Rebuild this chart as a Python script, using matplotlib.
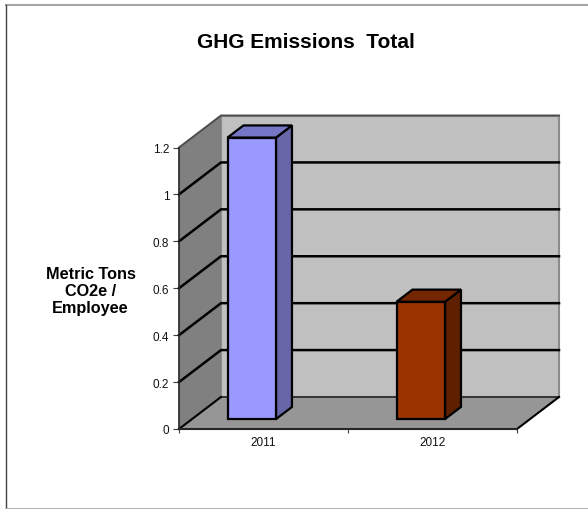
import matplotlib
matplotlib.use('Agg')
import matplotlib.pyplot as plt
from matplotlib.lines import Line2D
from matplotlib.patches import Polygon

W, H = 588, 510

years = ['2011', '2012']
values = [1.2, 0.5]
y_ticks = [0, 0.2, 0.4, 0.6, 0.8, 1, 1.2]
front_colors = ['#9999FF', '#993300']
top_colors = ['#7676C6', '#742600']
side_colors = ['#6666A8', '#5F2000']
title = 'GHG Emissions  Total'
y_label = 'Metric Tons\nCO2e /\nEmployee'

plt.rcParams['font.family'] = ['Liberation Sans', 'DejaVu Sans']

fig = plt.figure(figsize=(W / 100, H / 100), dpi=100)
fig.patch.set_facecolor('white')

# frame: only top, left and bottom show in the picture
fig.add_artist(Line2D([6 / W, 1], [1 - 5.5 / H, 1 - 5.5 / H], color='#a6a6a6', lw=1.5))
fig.add_artist(Line2D([6 / W, 6 / W], [1 - 5.5 / H, 1 - 509.5 / H], color='#404040', lw=1))
fig.add_artist(Line2D([6 / W, 1], [1 - 509.5 / H, 1 - 509.5 / H], color='#a6a6a6', lw=1.2))

# front plane of the 3d box, everything else is offset from it
x0, x1, y_top, y_bot = 179, 517, 148.5, 430
ax = fig.add_axes([x0 / W, 1 - y_bot / H, (x1 - x0) / W, (y_bot - y_top) / H])
ax.set_xlim(0, 2)
ax.set_ylim(0, 1.2)
ax.patch.set_alpha(0)

# depth of the box in data units
dx = 42 / (x1 - x0) * 2
dy = 32 / (y_bot - y_top) * 1.2


def poly(pts, fc, ec='none', lw=0, z=1):
    ax.add_patch(Polygon(pts, closed=True, facecolor=fc, edgecolor=ec, linewidth=lw,
                         clip_on=False, zorder=z, joinstyle='miter'))


def line(xs, ys, color='black', lw=1.8, z=3):
    ax.plot(xs, ys, color=color, lw=lw, clip_on=False, zorder=z, solid_joinstyle='miter')


# back wall, side wall, floor
poly([(dx, dy), (2 + dx, dy), (2 + dx, 1.2 + dy), (dx, 1.2 + dy)], '#C0C0C0', '#8c8c8c', 1.5)
poly([(0, 0), (dx, dy), (dx, 1.2 + dy), (0, 1.2)], '#808080', z=2)
poly([(0, 0), (2, 0), (2 + dx, dy), (dx, dy)], '#969696', z=2)
line([0, dx, 2 + dx], [1.2, 1.2 + dy, 1.2 + dy], color='#4d4d4d', lw=1.4)

# gridlines on both walls
for t in y_ticks[1:-1]:
    line([0, dx, 2 + dx], [t, t + dy, t + dy])
line([dx, 2 + dx], [dy, dy], color='#262626', lw=1.2)
line([2, 2 + dx], [0, dy], lw=1.5)
line([0, dx], [0, dy], lw=1.5)

# bars sit part way into the box depth
bar_left = 0.21
bar_w = 0.287
near = 0.31
far = 0.69
for i, v in enumerate(values):
    l = i + bar_left + near * dx
    r = l + bar_w
    b = near * dy
    t = b + v
    ox = (far - near) * dx
    oy = (far - near) * dy
    poly([(r, b), (r + ox, b + oy), (r + ox, t + oy), (r, t)], side_colors[i], 'black', 1.6, z=4)
    poly([(l, t), (r, t), (r + ox, t + oy), (l + ox, t + oy)], top_colors[i], 'black', 1.6, z=4)
    poly([(l, b), (r, b), (r, t), (l, t)], front_colors[i], 'black', 1.6, z=5)

ax.set_xticks([0, 1, 2])
ax.set_xticklabels([])
ax.set_xticks([0.5, 1.5], labels=years, minor=True)
ax.set_yticks(y_ticks, labels=[str(t) for t in y_ticks])
ax.tick_params(axis='x', which='major', length=3, width=0.8, color='#404040', direction='out')
ax.tick_params(axis='x', which='minor', length=0, labelsize=8.5, labelcolor='#111111', pad=5)
ax.tick_params(axis='y', length=4, width=0.8, color='#404040', labelsize=8.5, labelcolor='#111111', pad=3)
for s in ['top', 'right']:
    ax.spines[s].set_visible(False)
ax.spines['left'].set(color='#262626', linewidth=1.2, zorder=6)
ax.spines['bottom'].set(color='#262626', linewidth=1.5, zorder=6)

fig.text(305.5 / W, 1 - 42 / H, title, ha='center', va='center', fontsize=15, fontweight='bold')
fig.text(90.5 / W, 1 - 291.5 / H, y_label, ha='center', va='center', fontsize=11.7, fontweight='bold',
         linespacing=1.15)

fig.savefig('out.png', dpi=100)
